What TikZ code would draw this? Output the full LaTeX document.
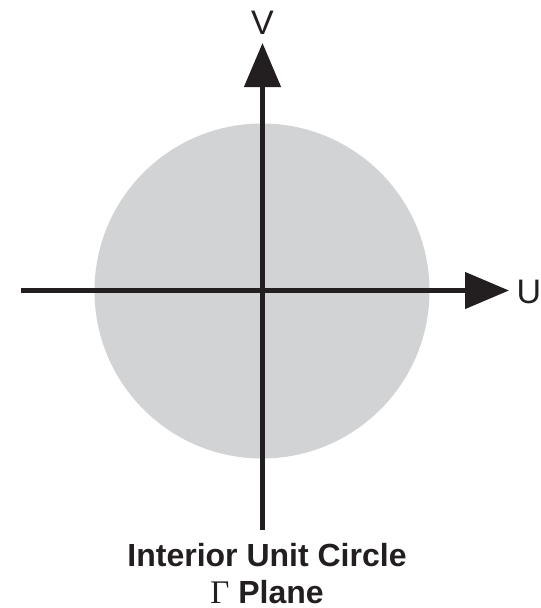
\documentclass[tikz,border=0pt]{standalone}
\usepackage{fontspec}
\setmainfont{Liberation Sans}
\newfontfamily\serifgamma{Liberation Serif}
\usetikzlibrary{arrows.meta}
\definecolor{diskgray}{RGB}{209,211,212}
\definecolor{axisblack}{RGB}{35,31,32}
\tikzset{
  axisline/.style={line width=4.6pt, draw=axisblack, -{Triangle[length=44pt,width=36pt]}},
  axislabel/.style={font=\fontsize{34}{36}\selectfont, text=axisblack, inner sep=0pt, anchor=base},
  caption/.style={font=\fontsize{32}{34}\selectfont\bfseries, text=axisblack, inner sep=0pt, text depth=0pt, anchor=base}
}
\begin{document}
\begin{tikzpicture}[x=1pt,y=-1pt]
\useasboundingbox (0,0) rectangle (541,608);
\fill[diskgray] (262,291) circle (167.5);
\coordinate (hstart) at (21,290.5);
\coordinate (htip) at (509,290.5);
\coordinate (vstart) at (262.5,530);
\coordinate (vtip) at (262.5,43);
\draw[axisline] (hstart) -- (htip);
\draw[axisline] (vstart) -- (vtip);
\node[axislabel] (vlab) at (262.5,34) {V};
\node[axislabel] (ulab) at (529,303) {U};
\node[caption] (cap1) at (267,566.5) {Interior Unit Circle};
\node[caption] (cap2) at (267,603.5) {{\serifgamma\mdseries\fontsize{33}{34}\selectfont Γ} Plane};
\end{tikzpicture}
\end{document}
